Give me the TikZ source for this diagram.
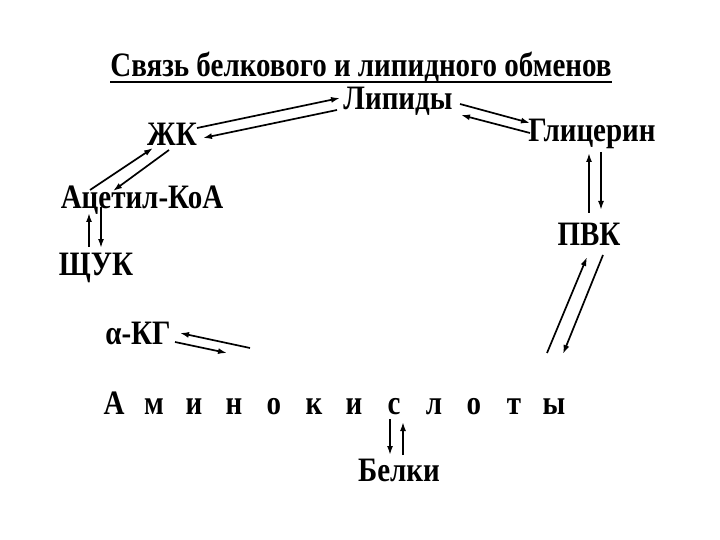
\documentclass[tikz,border=0pt]{standalone}
\usepackage{fontspec}
\usepackage{graphicx}
\setmainfont{Liberation Serif}
\usetikzlibrary{arrows.meta}
\newcommand{\tallt}[1]{\scalebox{1}[1.18]{#1}}
\begin{document}
\begin{tikzpicture}[x=1pt,y=-1pt,
  lbl/.style={font=\fontsize{29}{31}\selectfont\bfseries, inner sep=0pt, anchor=center},
  arr/.style={-{Latex[length=9pt,width=6pt]}, line width=1.7pt}]
\useasboundingbox (0,0) rectangle (720,540);
\fill[white] (0,0) rectangle (720,540);
\node[lbl] (title) at (361,67) {\tallt{Связь белкового и липидного обменов}};
\draw[line width=1.7pt] (110,82) -- (612,82);
\node[lbl] (lip) at (398,101) {\tallt{Липиды}};
\node[lbl] (zk) at (172,134) {\tallt{ЖК}};
\node[lbl] (gly) at (592,134) {\tallt{Глицерин}};
\node[lbl] (acet) at (142,200) {\tallt{Ацетил-КоА}};
\node[lbl] (shuk) at (96,268) {\tallt{ЩУК}};
\node[lbl] (pvk) at (589,234) {\tallt{ПВК}};
\node[lbl] (akg) at (138,333) {\tallt{α-КГ}};
\node[lbl] (amino) at (334,403) {\tallt{\makebox[40pt][c]{А}\makebox[40pt][c]{м}\makebox[40pt][c]{и}\makebox[40pt][c]{н}\makebox[40pt][c]{о}\makebox[40pt][c]{к}\makebox[40pt][c]{и}\makebox[40pt][c]{с}\makebox[40pt][c]{л}\makebox[40pt][c]{о}\makebox[40pt][c]{т}\makebox[40pt][c]{ы}}};
\node[lbl] (bel) at (399,470) {\tallt{Белки}};
\coordinate (akgend1) at (250,348);
\coordinate (akgend2) at (227,353);
\coordinate (pvkend1) at (547,353);
\coordinate (pvkend2) at (563,354);
% Lipids - ZhK
\draw[arr] ([shift={(25,-6)}]zk.center) -- ([shift={(-58,-3)}]lip.center);
\draw[arr] ([shift={(-61,9)}]lip.center) -- ([shift={(31,4)}]zk.center);
% Lipids - Glycerin
\draw[arr] ([shift={(62,3)}]lip.center) -- ([shift={(-62,-11)}]gly.center);
\draw[arr] ([shift={(-62,-1)}]gly.center) -- ([shift={(63,14)}]lip.center);
% ZhK - Acetyl
\draw[arr] ([shift={(-52,-10)}]acet.center) -- ([shift={(-19,14)}]zk.center);
\draw[arr] ([shift={(-3,16)}]zk.center) -- ([shift={(-29,-9)}]acet.center);
% Acetyl - SHUK
\draw[arr] ([shift={(-7,-21)}]shuk.center) -- ([shift={(-53,13)}]acet.center);
\draw[arr] ([shift={(-41,7)}]acet.center) -- ([shift={(5,-20)}]shuk.center);
% Glycerin - PVK
\draw[arr] ([shift={(0,-21)}]pvk.center) -- ([shift={(-3,19)}]gly.center);
\draw[arr] ([shift={(9,18)}]gly.center) -- ([shift={(12,-24)}]pvk.center);
% PVK - amino
\draw[arr] (pvkend1) -- ([shift={(-2,23)}]pvk.center);
\draw[arr] ([shift={(14,21)}]pvk.center) -- (pvkend2);
% aKG
\draw[arr] (akgend1) -- ([shift={(42,0)}]akg.center);
\draw[arr] ([shift={(37,9)}]akg.center) -- (akgend2);
% amino - Belki
\draw[arr] ([shift={(-9,-51)}]bel.center) -- ([shift={(-9,-15)}]bel.center);
\draw[arr] ([shift={(4,-15)}]bel.center) -- ([shift={(4,-48)}]bel.center);
\end{tikzpicture}
\end{document}
